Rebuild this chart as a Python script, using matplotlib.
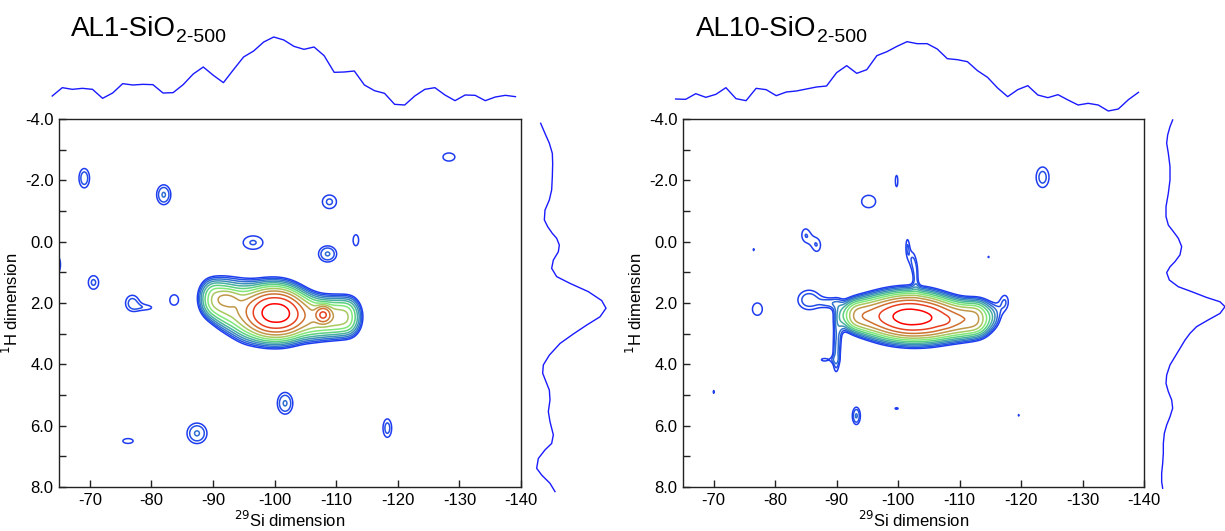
import numpy as np
import matplotlib
matplotlib.use("Agg")
import matplotlib.pyplot as plt

plt.rcParams['font.family'] = ['Liberation Sans', 'DejaVu Sans']
plt.rcParams['axes.unicode_minus'] = False

# ---------------- data ----------------
titles = ["AL1-SiO", "AL10-SiO"]
title_sub = "2-500"

si_ticks = [-70, -80, -90, -100, -110, -120, -130, -140]
h_ticks = [-4.0, -2.0, 0.0, 2.0, 4.0, 6.0, 8.0]

# contour levels (relative intensity) and their colours, outer -> inner
levels = [0.060, 0.076, 0.097, 0.124, 0.157, 0.200, 0.255, 0.324, 0.413, 0.525, 0.668, 0.850]
level_colors = ['#1f3df0', '#2450e6', '#3070d0', '#3c90b8', '#48b0a0', '#5cd080',
                '#80e878', '#a8c860', '#c09848', '#d07030', '#e84020', '#ff0000']

# ---- AL1 ----
# broad Q-site ridge (29Si shift, 1H shift, 1H width); common amplitude and 29Si width
al1_ridge_si = [-89.3, -90.7, -92.0, -93.4, -94.8, -96.1, -97.5, -98.8, -100.2, -101.6,
                -102.9, -104.3, -105.7, -107.0, -108.4, -109.7, -111.1, -112.5]
al1_ridge_h = [1.85, 1.95, 2.05, 2.15, 2.25, 2.3, 2.32, 2.32, 2.33, 2.35,
               2.38, 2.42, 2.46, 2.48, 2.48, 2.47, 2.46, 2.45]
al1_ridge_wh = [0.45, 0.52, 0.58, 0.63, 0.65, 0.65, 0.63, 0.61, 0.6, 0.59,
                0.57, 0.55, 0.52, 0.5, 0.48, 0.47, 0.47, 0.46]
al1_ridge_amp = 0.162
al1_ridge_wsi = 1.37
# main peak, shoulder at -108 ppm and low-field finger
al1_main_si = [-100.2, -107.9, -92.5]
al1_main_h = [2.32, 2.37, 1.85]
al1_main_amp = [0.57, 0.32, 0.10]
al1_main_wsi = [3.2, 0.9, 1.4]
al1_main_wh = [0.6, 0.2, 0.2]
# weak isolated correlations
al1_weak_si = [-69.1, -82.0, -108.9, -128.3, -96.5, -108.6, -113.2, -64.8, -70.6, -76.9,
               -79.6, -83.7, -101.7, -87.4, -118.3, -76.2]
al1_weak_h = [-2.07, -1.53, -1.3, -2.76, 0.03, 0.4, -0.05, 0.75, 1.33, 2.0,
              2.15, 1.9, 5.27, 6.25, 6.08, 6.5]
al1_weak_amp = [0.09, 0.10, 0.08, 0.066, 0.078, 0.10, 0.066, 0.07, 0.08, 0.085,
                0.058, 0.07, 0.10, 0.10, 0.085, 0.066]
al1_weak_wsi = [0.95, 1.14, 1.5, 2.2, 2.2, 1.45, 1.0, 0.8, 1.1, 1.3,
                1.3, 1.26, 1.24, 1.6, 0.84, 1.9]
al1_weak_wh = [0.35, 0.32, 0.29, 0.3, 0.3, 0.26, 0.4, 0.45, 0.29, 0.3,
               0.12, 0.3, 0.35, 0.33, 0.36, 0.18]

# ---- AL10 ----
al10_ridge_si = [-92.4, -93.9, -95.4, -96.9, -98.4, -99.9, -101.4, -102.9, -104.5, -106.0,
                 -107.5, -109.0, -110.5, -112.0, -113.5]
al10_ridge_h = [2.4, 2.42, 2.43, 2.44, 2.45, 2.46, 2.47, 2.49, 2.51, 2.53,
                2.54, 2.55, 2.55, 2.53, 2.5]
al10_ridge_wh = [0.36, 0.42, 0.46, 0.5, 0.52, 0.53, 0.53, 0.53, 0.52, 0.5,
                 0.48, 0.46, 0.44, 0.43, 0.42]
al10_ridge_amp = 0.214
al10_ridge_wsi = 1.5
al10_main_si = [-102.4, -107.8]
al10_main_h = [2.42, 2.6]
al10_main_amp = [0.45, 0.05]
al10_main_wsi = [4.2, 1.0]
al10_main_wh = [0.53, 0.15]
al10_weak_si = [-101.5, -102.3, -102.9, -85.5, -89.0, -90.2, -90.1, -89.9, -88.0, -115.8,
                -117.4, -99.75, -95.2, -84.9, -86.8, -76.5, -114.7, -123.5, -77.1, -70.0,
                -93.2, -99.75, -119.6]
al10_weak_h = [0.15, 0.6, 1.1, 1.9, 2.0, 2.5, 3.3, 3.95, 3.85, 2.4,
               1.95, -1.98, -1.31, -0.22, 0.12, 0.26, 0.5, -2.1, 2.2, 4.9,
               5.68, 5.44, 5.66]
al10_weak_amp = [0.068, 0.07, 0.068, 0.09, 0.063, 0.066, 0.068, 0.068, 0.065, 0.068,
                 0.07, 0.068, 0.075, 0.072, 0.072, 0.063, 0.062, 0.085, 0.07, 0.063,
                 0.10, 0.063, 0.062]
al10_weak_wsi = [0.35, 0.55, 0.4, 2.0, 1.2, 0.7, 0.6, 0.5, 1.2, 1.0,
                 0.8, 0.4, 1.7, 0.9, 0.9, 0.3, 0.3, 1.25, 1.44, 0.3,
                 0.65, 0.8, 0.3]
al10_weak_wh = [0.35, 0.35, 0.35, 0.35, 0.15, 0.5, 0.45, 0.4, 0.1, 0.35,
                0.3, 0.36, 0.3, 0.3, 0.3, 0.1, 0.1, 0.4, 0.36, 0.15,
                0.28, 0.08, 0.1]

# F2 (29Si) projections
al1_top = [32, 57, 52, 55, 52, 25, 41, 69, 65, 67, 66, 41, 42, 66, 98, 119, 94, 72, 111,
           149, 167, 194, 209, 200, 181, 172, 179, 153, 103, 104, 107, 65, 48, 40, 7, 5,
           32, 52, 57, 35, 18, 35, 34, 18, 29, 34, 30]
al10_top = [43, 42, 59, 48, 57, 77, 44, 38, 75, 71, 53, 64, 67, 73, 79, 82, 122, 143, 120,
            131, 173, 185, 201, 215, 209, 209, 193, 164, 161, 155, 128, 108, 76, 50, 71, 83,
            55, 47, 56, 40, 25, 30, 25, 7, 13, 41, 63]
al1_top_si = np.linspace(-63.9, -139.1, len(al1_top))
al10_top_si = np.linspace(-63.8, -139.1, len(al10_top))

# F1 (1H) projections
al1_side_h = [-3.86, -3.53, -3.21, -2.88, -2.55, -2.12, -1.69, -1.36, -1.03, -0.71, -0.49,
              -0.27, -0.11, 0.11, 0.33, 0.60, 0.87, 1.14, 1.36, 1.63, 1.92, 2.17, 2.45, 2.72,
              3.01, 3.32, 3.70, 4.02, 4.29, 4.62, 4.84, 5.16, 5.54, 5.87, 6.30, 6.58, 6.79,
              7.07, 7.39, 7.61, 7.88, 8.15]
al1_side = [62, 75, 88, 97, 98, 97, 95, 88, 75, 73, 83, 97, 110, 118, 115, 100, 95, 110,
            150, 205, 245, 258, 240, 200, 160, 120, 88, 70, 68, 80, 88, 90, 85, 90, 100, 95,
            75, 55, 50, 65, 90, 105]
al10_side_h = [-3.97, -3.75, -3.48, -3.21, -2.88, -2.45, -2.01, -1.58, -1.14, -0.82, -0.54,
               -0.33, -0.11, 0.16, 0.43, 0.65, 0.82, 1.01, 1.25, 1.47, 1.63, 1.82, 1.96,
               2.12, 2.34, 2.55, 2.77, 2.99, 3.21, 3.48, 3.75, 4.02, 4.35, 4.62, 4.89, 5.16,
               5.43, 5.71, 5.98, 6.25, 6.58, 6.90, 7.23, 7.55, 7.83, 8.04]
al10_side = [158, 150, 143, 140, 145, 150, 150, 145, 138, 138, 145, 160, 175, 185, 180, 165,
             150, 140, 148, 175, 215, 260, 300, 315, 300, 265, 230, 210, 195, 180, 165, 150,
             140, 138, 145, 155, 158, 150, 140, 133, 130, 130, 128, 125, 125, 128]

# ---------------- figure ----------------
W, H = 1225, 531
fig = plt.figure(figsize=(W / 100, H / 100), dpi=100)


def px_axes(x0, y0, x1, y1):
    return fig.add_axes([x0 / W, 1 - y1 / H, (x1 - x0) / W, (y1 - y0) / H])


si_grid = np.linspace(-63, -142, 633)
h_grid = np.linspace(-4.2, 8.2, 745)
SI, HH = np.meshgrid(si_grid, h_grid)


def spectrum(si, h, amp, wsi, wh, order=2.0):
    # sum of 2D line shapes; order 2 is Gaussian, larger is flatter-topped
    z = np.zeros_like(SI)
    for x0, y0, a, sx, sy in zip(si, h, amp, wsi, wh):
        r2 = ((SI - x0) / sx) ** 2 + ((HH - y0) / sy) ** 2
        z += a * np.exp(-0.5 * r2 ** (order / 2))
    return z


def full_spectrum(ridge, main, weak):
    r_si, r_h, r_wh, r_amp, r_wsi = ridge
    n = len(r_si)
    z = spectrum(r_si, r_h, [r_amp] * n, [r_wsi] * n, r_wh, order=2.5)
    z += spectrum(*main, order=2.5)
    z += spectrum(*weak, order=2.0)
    return z


def main_panel(x0, x1, z):
    ax = px_axes(x0, 119, x1, 487)
    ax.contour(SI, HH, z, levels=levels, colors=level_colors, linewidths=1.1)
    ax.set_xlim(-65, -140)
    ax.set_ylim(8, -4)
    ax.set_xticks(si_ticks)
    ax.set_xticklabels([f"{t:d}" for t in si_ticks])
    ax.set_yticks(h_ticks)
    ax.set_yticklabels([f"{t:.1f}" for t in h_ticks])
    ax.set_yticks(np.arange(-3, 8, 2), minor=True)
    ax.tick_params(which='both', direction='in', length=5, width=1, top=False, right=False,
                   labelsize=12, color='#222222', pad=4)
    for s in ax.spines.values():
        s.set_color('#222222')
        s.set_linewidth(1.0)
    ax.set_xlabel(r"$^{29}$Si dimension", fontsize=12, labelpad=2)
    ax.set_ylabel(r"$^{1}$H dimension", fontsize=12, labelpad=3)
    return ax


proj_color = '#1a1aff'

z_al1 = full_spectrum(
    (al1_ridge_si, al1_ridge_h, al1_ridge_wh, al1_ridge_amp, al1_ridge_wsi),
    (al1_main_si, al1_main_h, al1_main_amp, al1_main_wsi, al1_main_wh),
    (al1_weak_si, al1_weak_h, al1_weak_amp, al1_weak_wsi, al1_weak_wh))
z_al10 = full_spectrum(
    (al10_ridge_si, al10_ridge_h, al10_ridge_wh, al10_ridge_amp, al10_ridge_wsi),
    (al10_main_si, al10_main_h, al10_main_amp, al10_main_wsi, al10_main_wh),
    (al10_weak_si, al10_weak_h, al10_weak_amp, al10_weak_wsi, al10_weak_wh))

panels = [
    dict(x0=59, x1=521, z=z_al1,
         top_si=al1_top_si, top=al1_top, top_ylim=(-25, 260),
         side_h=al1_side_h, side=al1_side, side_px=(525, 625), side_xlim=(15, 315),
         title_x=71, title=titles[0]),
    dict(x0=683, x1=1144, z=z_al10,
         top_si=al10_top_si, top=al10_top, top_ylim=(-5, 280),
         side_h=al10_side_h, side=al10_side, side_px=(1150, 1230), side_xlim=(90, 330),
         title_x=696, title=titles[1]),
]

renderer = fig.canvas.get_renderer()
for p in panels:
    main_panel(p['x0'], p['x1'], p['z'])

    axt = px_axes(p['x0'], 20, p['x1'], 115)
    axt.plot(p['top_si'], p['top'], color=proj_color, lw=1.0, clip_on=False)
    axt.set_xlim(-65, -140)
    axt.set_ylim(*p['top_ylim'])
    axt.axis('off')

    axs = px_axes(p['side_px'][0], 119, p['side_px'][1], 487)
    axs.plot(p['side'], p['side_h'], color=proj_color, lw=1.0, clip_on=False)
    axs.set_xlim(*p['side_xlim'])
    axs.set_ylim(8, -4)
    axs.axis('off')

    t = fig.text(p['title_x'] / W, 1 - 36 / H, p['title'], fontsize=20, ha='left',
                 va='baseline')
    bb = t.get_window_extent(renderer)
    fig.text(bb.x1 / W, 1 - 42 / H, title_sub, fontsize=14, ha='left', va='baseline')

fig.savefig("out.png", dpi=100)
